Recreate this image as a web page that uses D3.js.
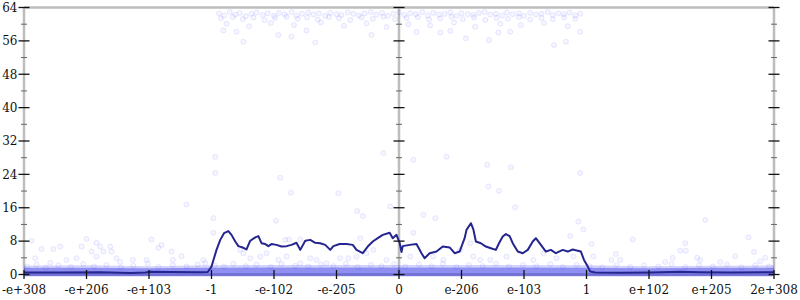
<!DOCTYPE html>
<html><head><meta charset="utf-8">
<script src="https://cdn.jsdelivr.net/npm/d3@7"></script>
<style>body{margin:0;background:#fff}</style>
</head><body><svg id="c" width="800" height="300"></svg>
<script>
// ---- data ----
const xTickValues = [-6,-5,-4,-3,-2,-1,0,1,2,3,4,5,6];
const xTickLabels = ["-e+308","-e+206","-e+103","-1","-e-102","-e-205","0","e-206","e-103","1","e+102","e+205","2e+308"];
const yTickValues = [0,8,16,24,32,40,48,56,64];
const yMinorValues = [4,12,20,28,36,44,52,60];

const lineX = [-6,-5.42,-4.78,-4.30,-4.06,-3.98,-3.66,-3.18,-3.06,-3.00,-2.92,-2.86,-2.80,-2.73,-2.68,-2.62,-2.57,-2.49,-2.44,-2.38,-2.30,-2.25,-2.20,-2.14,-2.09,-2.04,-1.96,-1.88,-1.80,-1.72,-1.64,-1.58,-1.50,-1.42,-1.34,-1.26,-1.18,-1.10,-1.05,-0.95,-0.84,-0.74,-0.68,-0.58,-0.50,-0.42,-0.34,-0.26,-0.15,-0.10,-0.04,0.01,0.04,0.06,0.17,0.28,0.36,0.41,0.49,0.60,0.70,0.81,0.89,0.97,1.05,1.08,1.15,1.19,1.23,1.31,1.39,1.47,1.55,1.60,1.66,1.71,1.77,1.82,1.90,1.98,2.06,2.14,2.19,2.27,2.35,2.43,2.51,2.62,2.70,2.78,2.86,2.91,2.96,3.02,3.06,3.14,3.54,4.02,4.50,4.82,5.30,6.00];
const lineY = [0.5,0.5,0.55,0.35,0.5,0.65,0.6,0.55,0.6,1.9,5.9,8.3,9.9,10.4,9.5,7.9,6.8,6.4,6.0,8.1,8.9,9.2,7.5,7.3,6.8,7.3,7.1,6.7,6.8,7.1,7.6,5.9,8.1,8.3,7.6,7.5,7.1,5.9,6.8,7.3,7.3,7.1,5.9,5.1,6.7,7.9,8.7,9.5,10.0,8.7,9.5,7.6,5.4,6.8,7.1,7.3,5.1,3.9,5.1,5.5,6.7,6.5,5.1,5.5,8.7,10.7,12.3,10.8,7.9,7.5,6.7,6.3,5.9,7.5,9.1,9.7,9.2,7.5,5.5,5.1,5.9,7.9,8.7,7.1,5.5,5.9,5.1,5.9,5.5,6.0,5.7,5.5,3.5,1.9,0.7,0.5,0.4,0.5,0.65,0.55,0.5,0.55];

// scattered points [x, value]
const midPoints = [
 [-5.88,8.1],[-5.72,6.1],[-5.82,3.9],[-5.53,6.1],[-5.42,6.7],[-5.00,8.5],[-5.08,6.7],[-4.84,7.6],[-4.78,6.7],[-4.62,6.7],
 [-4.92,5.5],[-4.73,5.5],[-4.60,5.5],[-4.84,4.3],[-5.16,3.9],[-4.52,3.9],[-3.96,8.4],[-3.80,7.1],[-3.85,6.4],[-3.64,5.5],
 [-3.48,4.4],[-3.40,16.8],[-4.04,3.5],[-5.32,3.5],[-5.58,2.8],[-4.26,3.5],[-3.62,3.5],[-4.46,3.0],
 [-2.94,28.2],[-2.94,24.3],[-1.90,23.2],[-1.73,19.6],[-0.97,19.5],[-0.25,29.1],[-0.14,16.3],[-0.67,15.2],[-0.58,14.0],
 [-2.97,13.5],[-1.97,12.9],[-2.97,10.0],[-1.76,8.4],[-1.58,8.4],[-1.82,8.3],[-0.62,8.7],
 [-3.13,3.5],[-3.10,2.7],[-2.49,5.1],[-2.38,3.9],[-2.22,4.3],[-1.93,3.5],[-1.80,4.3],[-1.58,2.7],[-1.42,3.9],[-1.32,3.5],
 [-1.16,2.7],[-0.94,3.9],[-0.81,3.9],[-0.68,4.3],[-0.52,5.1],[-0.41,5.9],[-0.20,3.5],[-2.54,5.9],[-2.12,5.1],
 [0.23,27.5],[0.76,28.2],[1.41,26.3],[1.79,25.7],[1.43,21.1],[1.60,20.1],[2.90,24.3],[1.86,16.1],[0.39,14.3],[0.58,13.5],
 [2.95,10.8],[2.87,12.7],[0.23,10.0],[3.08,7.3],[2.74,9.2],
 [0.18,4.3],[0.55,4.3],[0.71,3.5],[1.19,4.3],[1.30,3.5],[1.46,3.5],[1.72,4.3],[2.15,3.5],[2.31,5.1],[2.52,3.9],[2.79,4.3],
 [3.11,4.3],[1.14,7.5],[0.98,5.9],
 [4.90,13.1],[3.74,8.4],[4.58,7.5],[4.50,5.7],[4.59,5.7],[5.59,8.9],[5.68,5.4],[5.38,4.4],[3.47,4.9],[3.40,3.5],[3.54,3.5],
 [4.38,4.0],[4.77,4.0],[4.82,3.5],[5.86,4.0],[5.78,3.2],[5.14,3.0],[4.26,3.0]
];

const topPoints = [
 [-2.88,62.6],[-2.80,62.1],[-2.71,62.9],[-2.62,62.3],[-2.55,62.7],[-2.45,61.9],[-2.36,62.5],[-2.28,62.8],[-2.18,62.2],[-2.10,62.6],
 [-2.00,62.0],[-1.92,62.7],[-1.83,62.4],[-1.72,62.9],[-1.64,62.1],[-1.55,62.5],[-1.45,62.8],[-1.37,62.3],[-1.28,62.6],[-1.18,62.0],
 [-1.10,62.7],[-1.00,62.4],[-0.92,62.2],[-0.82,62.8],[-0.73,62.5],[-0.64,62.1],[-0.55,62.6],[-0.45,62.9],[-0.36,62.3],[-0.27,62.7],
 [-0.18,62.0],[-0.09,62.5],[0.00,62.8],[0.09,62.2],[0.18,62.6],[0.27,62.4],[0.37,62.9],[0.46,62.1],[0.55,62.7],[0.64,62.3],
 [0.73,62.5],[0.82,62.8],[0.92,62.0],[1.00,62.6],[1.10,62.4],[1.19,62.2],[1.28,62.7],[1.37,62.9],[1.46,62.3],[1.55,62.5],
 [1.65,62.1],[1.73,62.8],[1.82,62.4],[1.92,62.6],[2.00,62.0],[2.10,62.7],[2.19,62.3],[2.28,62.5],[2.38,62.9],[2.46,62.2],
 [2.55,62.6],[2.64,62.4],[2.73,62.8],[2.82,62.1],[2.90,62.5],
 [-2.85,61.4],[-2.66,61.7],[-2.50,61.2],[-2.33,61.6],[-2.15,61.0],[-1.98,61.5],[-1.80,61.8],[-1.62,61.3],[-1.47,61.6],[-1.30,61.1],
 [-1.12,61.7],[-0.96,61.4],[-0.78,61.0],[-0.60,61.6],[-0.42,61.3],[-0.25,61.8],[-0.06,61.2],[0.12,61.5],[0.30,61.7],[0.48,61.1],
 [0.66,61.4],[0.84,61.8],[1.02,61.2],[1.20,61.6],[1.38,61.0],[1.56,61.5],[1.74,61.3],[1.92,61.7],[2.10,61.1],[2.28,61.5],
 [2.46,61.2],[2.64,61.6],[2.82,61.3],
 [-2.76,60.1],[-2.40,59.5],[-2.05,60.3],[-1.68,59.8],[-1.25,60.4],[-0.88,59.6],[-0.52,60.2],[-0.20,59.3],[0.15,60.0],[0.50,59.7],
 [0.88,60.4],[1.22,59.4],[1.62,60.1],[1.95,59.8],[2.32,60.3],[2.70,59.5],
 [-2.49,55.8],[-1.34,55.6],[-1.93,57.4],[-1.72,57.0],[-0.44,57.4],[-2.81,58.5],[-2.60,58.2],[-1.48,58.5],[2.48,55.0],[2.67,55.8],
 [1.44,56.2],[1.07,56.6],[0.28,58.1],[0.66,58.0],[0.82,58.4],[1.59,58.0],[2.90,58.2],[1.78,58.2]
];

// points just above the dense band near zero
const edgePoints = [
 [-5.95,1.9],[-5.80,2.4],[-5.65,1.7],[-5.45,2.2],[-5.25,1.8],[-5.05,2.5],[-4.88,1.9],[-4.68,2.3],[-4.45,1.7],[-4.25,2.1],
 [-4.02,2.6],[-3.85,1.8],[-3.62,2.2],[-3.40,1.9],[-3.22,2.4],[-2.95,2.2],[-2.80,1.9],[-2.65,2.6],[-2.45,2.0],[-2.28,2.4],
 [-2.05,1.8],[-1.88,2.5],[-1.66,2.1],[-1.45,1.9],[-1.25,2.4],[-1.05,2.0],[-0.85,2.6],[-0.66,1.8],[-0.45,2.3],[-0.28,2.0],
 [-0.08,2.5],[0.10,1.9],[0.32,2.4],[0.52,2.0],[0.70,2.6],[0.92,1.8],[1.12,2.3],[1.34,2.0],[1.55,2.6],[1.76,1.9],
 [1.98,2.3],[2.20,2.0],[2.42,2.5],[2.62,1.8],[2.84,2.3],[3.05,2.0],[3.25,1.7],[3.48,2.3],[3.70,1.8],[3.92,2.2],
 [4.15,1.9],[4.36,2.5],[4.58,1.8],[4.80,2.2],[5.02,1.9],[5.25,2.4],[5.48,1.7],[5.70,2.2],[5.92,1.9]
];

// dense band of points near zero: lower/upper extents
const bandX = [-6,-5,-4,-3,-2,-1,0,1,2,3,4,5,6];
const bandLow = [-0.4,-0.4,-0.4,-0.4,-0.4,-0.4,-0.4,-0.4,-0.4,-0.4,-0.4,-0.4,-0.4];
const bandCore = [1.6,1.6,1.5,1.6,1.7,1.7,1.7,1.7,1.7,1.6,1.5,1.6,1.6];
const bandTop = [2.1,2.2,2.0,2.2,2.3,2.3,2.3,2.3,2.3,2.2,2.0,2.1,2.2];

// ---- drawing ----
const svg = d3.select("#c");
const x = d3.scaleLinear().domain([-6,6]).range([24,774]);
const y = d3.scaleLinear().domain([0,64]).range([274.5,7.5]);
const font = "'DejaVu Serif', serif";

const defs = svg.append("defs");
defs.append("filter").attr("id","soft").attr("x","-50%").attr("y","-50%").attr("width","200%").attr("height","200%")
  .append("feGaussianBlur").attr("stdDeviation",0.6);

// frame
const grey = "#bdbdbd";
svg.append("line").attr("x1",x(-6)).attr("x2",x(6)).attr("y1",y(64)).attr("y2",y(64)).attr("stroke",grey).attr("stroke-width",2.5);
svg.append("line").attr("x1",x(-6)).attr("x2",x(6)).attr("y1",y(0)).attr("y2",y(0)).attr("stroke",grey).attr("stroke-width",2.5);
[-6,0,6].forEach(v=>{
  svg.append("line").attr("x1",x(v)).attr("x2",x(v)).attr("y1",y(0)).attr("y2",y(64)).attr("stroke",grey).attr("stroke-width",2.5);
});

// band
const bandData = bandX.map((v,i)=>({x:v,lo:bandLow[i],core:bandCore[i],top:bandTop[i]}));
svg.append("path").datum(bandData)
  .attr("d", d3.area().x(d=>x(d.x)).y0(d=>y(d.core)).y1(d=>y(d.top)))
  .attr("fill","rgb(40,40,235)").attr("opacity",0.2);
svg.append("path").datum(bandData)
  .attr("d", d3.area().x(d=>x(d.x)).y0(d=>y(d.lo)).y1(d=>y(d.core)))
  .attr("fill","rgb(40,40,230)").attr("opacity",0.52);

// points
const allPts = midPoints.concat(topPoints, edgePoints);
svg.append("g").attr("filter","url(#soft)").selectAll("circle").data(allPts).join("circle")
  .attr("cx",d=>x(d[0])).attr("cy",d=>y(d[1])).attr("r",2.5)
  .attr("fill","rgba(60,60,255,0.05)")
  .attr("stroke","rgba(60,60,255,0.10)").attr("stroke-width",1);

// line
svg.append("path").datum(lineX.map((v,i)=>[v,lineY[i]]))
  .attr("d", d3.line().x(d=>x(d[0])).y(d=>y(d[1])))
  .attr("fill","none").attr("stroke","#25258f").attr("stroke-width",2).attr("stroke-linejoin","round");

// y ticks on three vertical axes
[-6,0,6].forEach(v=>{
  const cx = x(v);
  svg.append("g").selectAll("line").data(yTickValues).join("line")
    .attr("x1",cx-5.5).attr("x2",cx+5.5).attr("y1",d=>y(d)).attr("y2",d=>y(d))
    .attr("stroke","#111").attr("stroke-width",1.3);
  svg.append("g").selectAll("line").data(yMinorValues).join("line")
    .attr("x1",cx-3).attr("x2",cx+3).attr("y1",d=>y(d)).attr("y2",d=>y(d))
    .attr("stroke","#666").attr("stroke-width",1);
});

// x ticks
svg.append("g").selectAll("line").data(xTickValues).join("line")
  .attr("x1",d=>x(d)).attr("x2",d=>x(d)).attr("y1",y(0)-4.5).attr("y2",y(0)+4.5)
  .attr("stroke","#111").attr("stroke-width",1.3);

// labels
svg.append("g").selectAll("text").data(yTickValues).join("text")
  .attr("x",17.5).attr("y",d=>y(d)).attr("dy","0.36em")
  .attr("text-anchor","end").attr("font-family",font).attr("font-size",12).attr("fill","#111")
  .text(d=>d);
svg.append("g").selectAll("text").data(xTickValues).join("text")
  .attr("x",d=>x(d)).attr("y",294)
  .attr("text-anchor","middle").attr("font-family",font).attr("font-size",12).attr("fill","#111")
  .text((d,i)=>xTickLabels[i]);
</script>
</body></html>
